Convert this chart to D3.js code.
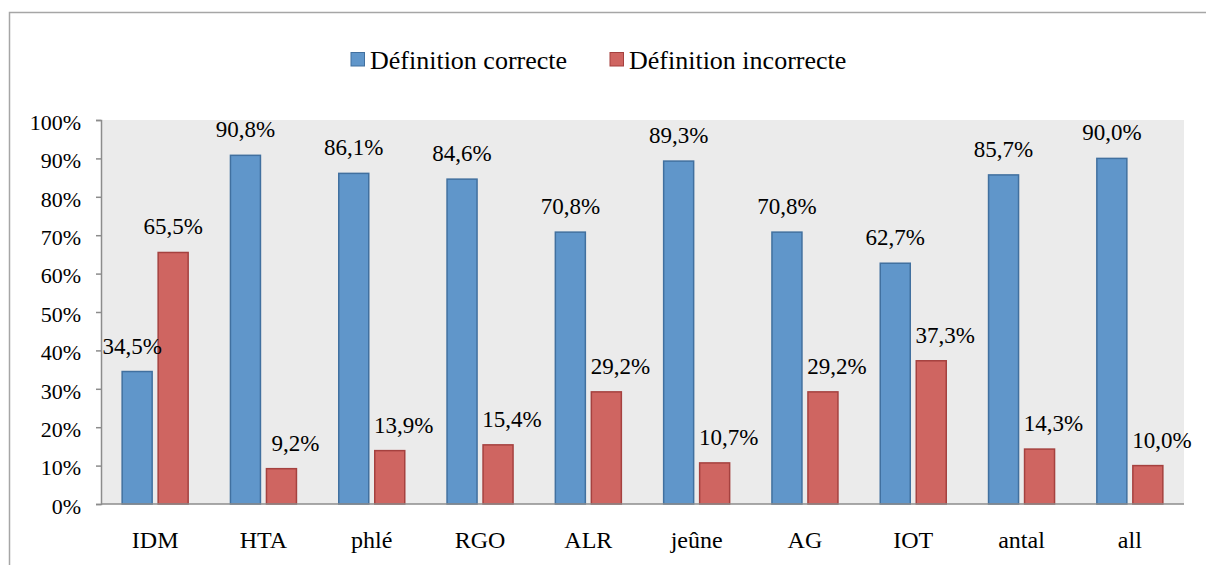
<!DOCTYPE html>
<html>
<head>
<meta charset="utf-8">
<script src="https://cdn.jsdelivr.net/npm/d3@7"></script>
<style>
  body { margin: 0; background: #fff; }
</style>
</head>
<body>
<svg id="grafico" width="1206" height="565"></svg>
<script>
// datos del grafico
var categorias = ["IDM", "HTA", "phlé", "RGO", "ALR", "jeûne", "AG", "IOT", "antal", "all"]
var series = ["Définition correcte", "Définition incorrecte"]
var correcte = [34.5, 90.8, 86.1, 84.6, 70.8, 89.3, 70.8, 62.7, 85.7, 90.0]
var incorrecte = [65.5, 9.2, 13.9, 15.4, 29.2, 10.7, 29.2, 37.3, 14.3, 10.0]
var ticksY = [0, 10, 20, 30, 40, 50, 60, 70, 80, 90, 100]

var fuente = "Liberation Serif"
var colores = { fill: ["#6096CA", "#CF6561"], stroke: ["#41709F", "#A5413F"] }
var plot = { left: 101, right: 1184, top: 120, bottom: 504 }

var svg = d3.select("#grafico").attr("font-family", fuente)

/* marco exterior */
svg.append("path")
    .attr("d", "M9.5,565 L9.5,12.5 L1206,12.5")
    .attr("fill", "none")
    .attr("stroke", "#A6A6A6")
    .attr("stroke-width", 1.5)

/* fondo del area */
svg.append("rect")
    .attr("x", plot.left).attr("y", plot.top)
    .attr("width", plot.right - plot.left).attr("height", plot.bottom - plot.top)
    .attr("fill", "#EBEBEB")

var x0 = d3.scaleBand().domain(categorias).range([plot.left, plot.right]).padding(0)
var grupo = 66
var x1 = d3.scaleBand().domain([0, 1]).range([0, grupo]).paddingInner(6 / 36)
var y = d3.scaleLinear().domain([0, 100]).range([plot.bottom, plot.top])

/* eje Y */
var ejeY = svg.append("g")
    .attr("transform", "translate(" + plot.left + ",0)")
    .call(d3.axisLeft(y).tickValues(ticksY).tickSize(5).tickPadding(15).tickFormat(function (d) { return d + "%" }))
ejeY.attr("font-family", fuente).attr("font-size", 22)
ejeY.select(".domain").attr("stroke", "#8C8C8C").attr("stroke-width", 1.5)
ejeY.selectAll(".tick line").attr("stroke", "#8C8C8C").attr("stroke-width", 1.5)
ejeY.selectAll(".tick text")
    .attr("font-family", fuente)
    .attr("fill", "#000")
    .attr("dy", "0.42em")

/* barras */
var filas = categorias.map(function (c, i) { return { cat: c, vals: [correcte[i], incorrecte[i]] } })

var grupos = svg.selectAll("g.grupo")
    .data(filas)
    .enter().append("g")
    .attr("class", "grupo")
    .attr("transform", function (d) {
        return "translate(" + (x0(d.cat) + (x0.bandwidth() - grupo) / 2) + ",0)"
    })

grupos.selectAll("rect")
    .data(function (d) { return d.vals })
    .enter().append("rect")
    .attr("x", function (d, i) { return x1(i) })
    .attr("y", function (d) { return y(d) })
    .attr("width", x1.bandwidth())
    .attr("height", function (d) { return plot.bottom - y(d) })
    .attr("fill", function (d, i) { return colores.fill[i] })
    .attr("stroke", function (d, i) { return colores.stroke[i] })
    .attr("stroke-width", 1.5)

/* etiquetas de valor */
grupos.selectAll("text")
    .data(function (d) { return d.vals.map(function (v, i) { return { v: v, i: i, otro: d.vals[1 - i] } }) })
    .enter().append("text")
    .attr("x", function (d) {
        var cx = x1(d.i) + x1.bandwidth() / 2
        // las etiquetas rojas van algo a la derecha, salvo si superan a la azul
        if (d.i === 1 && d.v < d.otro) return cx + 14
        if (d.i === 0 && d.v < d.otro) return cx - 5
        return cx
    })
    .attr("y", function (d) { return y(d.v) - 18 })
    .attr("text-anchor", "middle")
    .attr("font-family", fuente)
    .attr("font-size", 23)
    .text(function (d) { return d.v.toFixed(1).replace(".", ",") + "%" })

/* eje X */
svg.append("line")
    .attr("x1", plot.left).attr("x2", plot.right)
    .attr("y1", plot.bottom).attr("y2", plot.bottom)
    .attr("stroke", "#8C8C8C").attr("stroke-width", 1.5)

svg.selectAll("text.cat")
    .data(categorias)
    .enter().append("text")
    .attr("class", "cat")
    .attr("x", function (d) { return x0(d) + x0.bandwidth() / 2 })
    .attr("y", 548)
    .attr("text-anchor", "middle")
    .attr("font-family", fuente)
    .attr("font-size", 24)
    .text(function (d) { return d })

/* leyenda */
var leyenda = svg.append("g")
var posLeyenda = [351, 610]
series.forEach(function (s, i) {
    leyenda.append("rect")
        .attr("x", posLeyenda[i]).attr("y", 52.5)
        .attr("width", 13.5).attr("height", 13.5)
        .attr("fill", colores.fill[i])
        .attr("stroke", colores.stroke[i])
        .attr("stroke-width", 1)
    leyenda.append("text")
        .attr("x", posLeyenda[i] + 19)
        .attr("y", 69)
        .attr("font-family", fuente)
        .attr("font-size", 26)
        .text(s)
})
</script>
</body>
</html>
